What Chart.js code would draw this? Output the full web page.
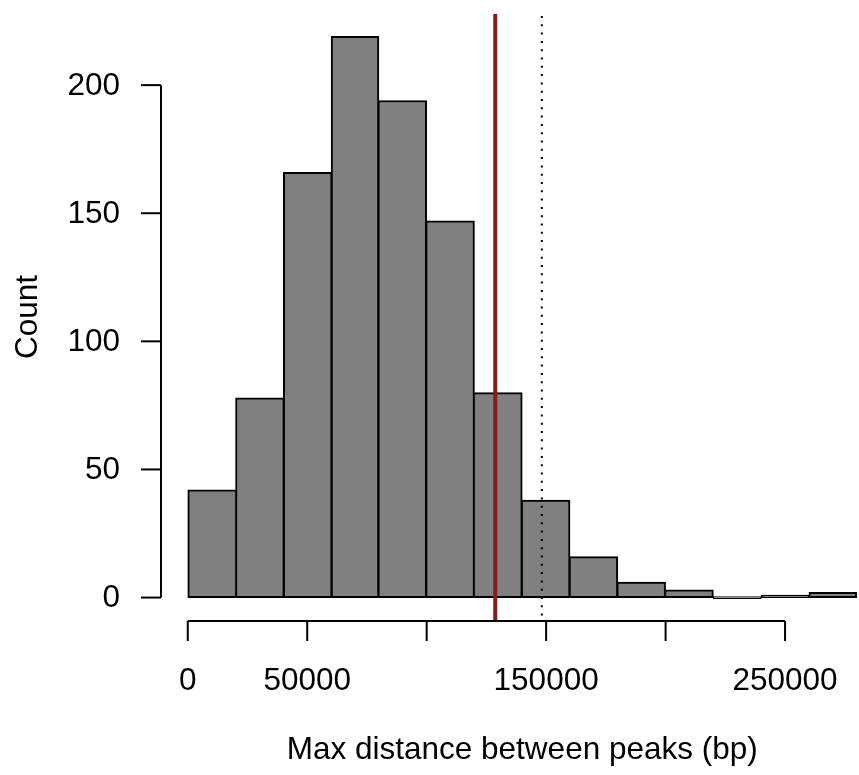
<!DOCTYPE html>
<html>
<head>
<meta charset="utf-8">
<title>Max distance between peaks</title>
<script src="https://cdn.jsdelivr.net/npm/chart.js@4.4.1/dist/chart.umd.min.js"></script>
<style>
  html, body { margin: 0; padding: 0; background: #fff; overflow: hidden; }
  #histChart { display: block; }
</style>
</head>
<body>
<canvas id="histChart" width="859" height="775"></canvas>
<script>
// Histogram bins (bp), width 20000
const binStarts = [0, 20000, 40000, 60000, 80000, 100000, 120000, 140000, 160000, 180000, 200000, 220000, 240000, 260000];
const binWidth = 20000;
const counts = [42, 78, 166, 219, 194, 147, 80, 38, 16, 6, 3, 0, 1, 2];

// Axis ticks
const xTicks = [0, 50000, 100000, 150000, 200000, 250000];
const xTickLabels = ['0', '50000', '', '150000', '', '250000'];
const yTicks = [0, 50, 100, 150, 200];
const yTickLabels = ['0', '50', '100', '150', '200'];

// Reference lines
const redLineValue = 128700;
const dottedLineValue = 148200;

const xTitle = 'Max distance between peaks (bp)';
const yTitle = 'Count';

document.addEventListener('DOMContentLoaded', function () {
    const ctx = document.getElementById('histChart');
    const FONT = '31.5px "Liberation Sans", Arial, Helvetica, sans-serif';
    const last = counts.length - 1;

    // Draws the R-style axes and the two vertical lines
    const rStylePlugin = {
        id: 'rStyle',
        afterDatasetsDraw(chart) {
            const c = chart.ctx;
            const x = chart.scales.x;
            const area = chart.chartArea;

            c.save();
            // red line (on top of the bars)
            const rx = x.getPixelForValue(redLineValue);
            c.strokeStyle = '#8B1A1A';
            c.lineWidth = 4;
            c.beginPath();
            c.moveTo(rx, area.top);
            c.lineTo(rx, area.bottom);
            c.stroke();

            // dotted line
            const dx = x.getPixelForValue(dottedLineValue);
            c.strokeStyle = '#000';
            c.lineWidth = 2;
            c.setLineDash([2, 6.3]);
            c.beginPath();
            c.moveTo(dx, area.top + 2);
            c.lineTo(dx, area.bottom);
            c.stroke();
            c.setLineDash([]);
            c.restore();
        },
        afterDraw(chart) {
            const c = chart.ctx;
            const x = chart.scales.x;
            const y = chart.scales.y;
            const area = chart.chartArea;
            const tickLen = 20;

            c.save();
            c.strokeStyle = '#000';
            c.fillStyle = '#000';
            c.lineWidth = 2;
            c.lineCap = 'butt';
            c.font = FONT;

            // y axis
            const ax = area.left;
            c.beginPath();
            c.moveTo(ax, y.getPixelForValue(yTicks[0]));
            c.lineTo(ax, y.getPixelForValue(yTicks[yTicks.length - 1]));
            c.stroke();
            c.textAlign = 'right';
            c.textBaseline = 'middle';
            yTicks.forEach(function (v, i) {
                const py = y.getPixelForValue(v);
                c.beginPath();
                c.moveTo(ax, py);
                c.lineTo(ax - tickLen, py);
                c.stroke();
                c.fillText(yTickLabels[i], ax - 41, py + 1);
            });

            // x axis
            const ay = area.bottom + 1;
            c.beginPath();
            c.moveTo(x.getPixelForValue(xTicks[0]), ay);
            c.lineTo(x.getPixelForValue(xTicks[xTicks.length - 1]), ay);
            c.stroke();
            c.textAlign = 'center';
            c.textBaseline = 'alphabetic';
            xTicks.forEach(function (v, i) {
                const px = x.getPixelForValue(v);
                c.beginPath();
                c.moveTo(px, ay);
                c.lineTo(px, ay + tickLen);
                c.stroke();
                if (xTickLabels[i]) c.fillText(xTickLabels[i], px, 690);
            });

            // axis titles, centred on the full R plot region
            const plotCenterX = x.getPixelForValue((-11200 + 291200) / 2);
            c.fillText(xTitle, plotCenterX, 759);
            c.save();
            c.translate(37, (area.top + area.bottom) / 2);
            c.rotate(-Math.PI / 2);
            c.fillText(yTitle, 0, 0);
            c.restore();
            c.restore();
        }
    };

    new Chart(ctx, {
        type: 'bar',
        data: {
            datasets: [{
                label: yTitle,
                data: binStarts.map((s, i) => ({ x: s + binWidth / 2, y: counts[i] })),
                backgroundColor: '#808080',
                borderColor: '#000',
                borderSkipped: false,
                minBarLength: 2, // so the empty bin still shows as a line
                borderWidth: function (context) {
                    const i = context.dataIndex;
                    return {
                        top: 2,
                        bottom: 2,
                        left: (i === 0 || counts[i - 1] < counts[i]) ? 2 : 1,
                        right: (i === last || counts[i + 1] < counts[i]) ? 2 : 1
                    };
                },
                barPercentage: 1,
                categoryPercentage: 1
            }]
        },
        options: {
            responsive: false,
            animation: false,
            devicePixelRatio: 1,
            layout: {
                padding: { left: 161, top: 14, right: 0, bottom: 155 }
            },
            scales: {
                x: {
                    type: 'linear',
                    min: -11200,
                    max: 280950,
                    offset: false,
                    display: false
                },
                y: {
                    type: 'linear',
                    min: -8.76,
                    max: 227.76,
                    display: false
                }
            },
            plugins: {
                legend: { display: false },
                tooltip: { enabled: false }
            }
        },
        plugins: [rStylePlugin]
    });
});
</script>
</body>
</html>
